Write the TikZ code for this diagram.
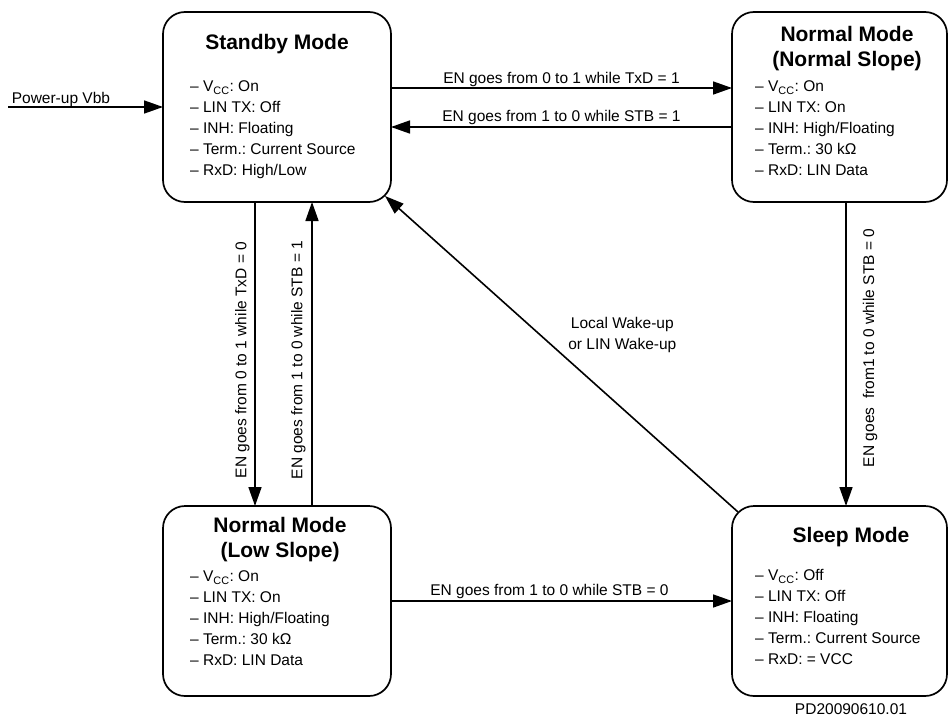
\documentclass[tikz,border=0pt]{standalone}
\usepackage{fontspec}
\setmainfont{Liberation Sans}
\frenchspacing
\usetikzlibrary{arrows.meta}
\usetikzlibrary{positioning, calc}
\tikzset{
modebox/.style={draw, line width=1.7pt, rounded corners=22pt, outer sep=0pt, inner sep=0pt, minimum height=190pt},
modetitle/.style={font=\bfseries\fontsize{21}{25}\selectfont, align=center, inner sep=0pt},
modebody/.style={font=\fontsize{15.5}{21}\selectfont, align=left, inner sep=0pt, anchor=north west},
lbl/.style={font=\fontsize{15.5}{21}\selectfont, inner sep=0pt},
arr/.style={line width=1.6pt, -{Triangle[length=19pt,width=13pt]}},
}

\begin{document}
\begin{tikzpicture}[x=1pt, y=-1pt]
    \useasboundingbox (0,0) rectangle (949,717);
    \node[modebox, minimum width=228pt] (standby) at (277,107) {};
    \node[modebox, minimum width=215pt] (normal) at (839.5,107) {};
    \node[modebox, minimum width=228pt] (lowslope) at (277,601) {};
    \node[modebox, minimum width=215pt] (sleep) at (839.5,601) {};

    \node[modetitle, anchor=base] (standbyT) at ([yshift=-37pt]standby.north) {Standby Mode};
    \node[modetitle, anchor=north] (normalT) at ([xshift=7.5pt,yshift=-14pt]normal.north) {Normal Mode\\(Normal Slope)};
    \node[modetitle, anchor=north] (lowslopeT) at ([xshift=3pt,yshift=-11pt]lowslope.north) {Normal Mode\\(Low Slope)};
    \node[modetitle, anchor=base] (sleepT) at ([xshift=11.5pt,yshift=-36pt]sleep.north) {Sleep Mode};

    \node[modebody] (standbyB) at ([xshift=27pt,yshift=-68.5pt]standby.north west) {%
        – V\textsubscript{CC}: On\\ – LIN TX: Off\\ – INH: Floating\\ – Term.: Current Source\\ – RxD: High/Low};
    \node[modebody] (normalB) at ([xshift=23pt,yshift=-68.5pt]normal.north west) {%
        – V\textsubscript{CC}: On\\ – LIN TX: On\\ – INH: High/Floating\\ – Term.: 30 kΩ\\ – RxD: LIN Data};
    \node[modebody] (lowslopeB) at ([xshift=27pt,yshift=-64.5pt]lowslope.north west) {%
        – V\textsubscript{CC}: On\\ – LIN TX: On\\ – INH: High/Floating\\ – Term.: 30 kΩ\\ – RxD: LIN Data};
    \node[modebody] (sleepB) at ([xshift=23pt,yshift=-63.5pt]sleep.north west) {%
        – V\textsubscript{CC}: Off\\ – LIN TX: Off\\ – INH: Floating\\ – Term.: Current Source\\ – RxD: = VCC};

    \coordinate (pwr) at (8,107);
    \coordinate (wakeA) at ($(sleep.north west)+(6,6)$);
    \coordinate (wakeB) at ($(standby.south east)+(-6,-6)$);

    \draw[arr] (pwr) -- (standby.west)
        node[lbl, pos=0, anchor=base west, xshift=3pt, yshift=4pt] {Power-up Vbb};
    \draw[arr] ([yshift=19pt]standby.east) -- ([yshift=19pt]normal.west)
        node[lbl, midway, anchor=base, yshift=5pt] {EN goes from 0 to 1 while TxD = 1};
    \draw[arr] ([yshift=-20pt]normal.west) -- ([yshift=-20pt]standby.east)
        node[lbl, midway, anchor=base, yshift=6pt] {EN goes from 1 to 0 while STB = 1};
    \draw[arr] ([xshift=-22pt]standby.south) -- ([xshift=-22pt]lowslope.north)
        node[lbl, pos=0.52, rotate=90, anchor=south, inner sep=4.7pt] {EN goes from 0 to 1 while TxD = 0};
    \draw[arr] ([xshift=35pt]lowslope.north) -- ([xshift=35pt]standby.south)
        node[lbl, pos=0.48, rotate=90, anchor=south, inner sep=5.7pt] {EN goes from 1 to 0 while STB = 1};
    \draw[arr] ([xshift=6.5pt]normal.south) -- ([xshift=6.5pt]sleep.north)
        node[lbl, pos=0.48, rotate=90, anchor=north, inner sep=16pt] {EN goes\ \ from1 to 0 while STB = 0};
    \draw[arr] (lowslope.east) -- (sleep.west)
        node[lbl, midway, anchor=base, xshift=-12pt, yshift=6pt] {EN goes from 1 to 0 while STB = 0};
    \draw[arr] (wakeA) -- (wakeB)
        node[lbl, pos=0.56, xshift=82pt, align=center] {Local Wake-up\\or LIN Wake-up};

    \node[lbl, anchor=base] (pdnum) at ([xshift=11.5pt,yshift=-18pt]sleep.south) {PD20090610.01};
\end{tikzpicture}
\end{document}
